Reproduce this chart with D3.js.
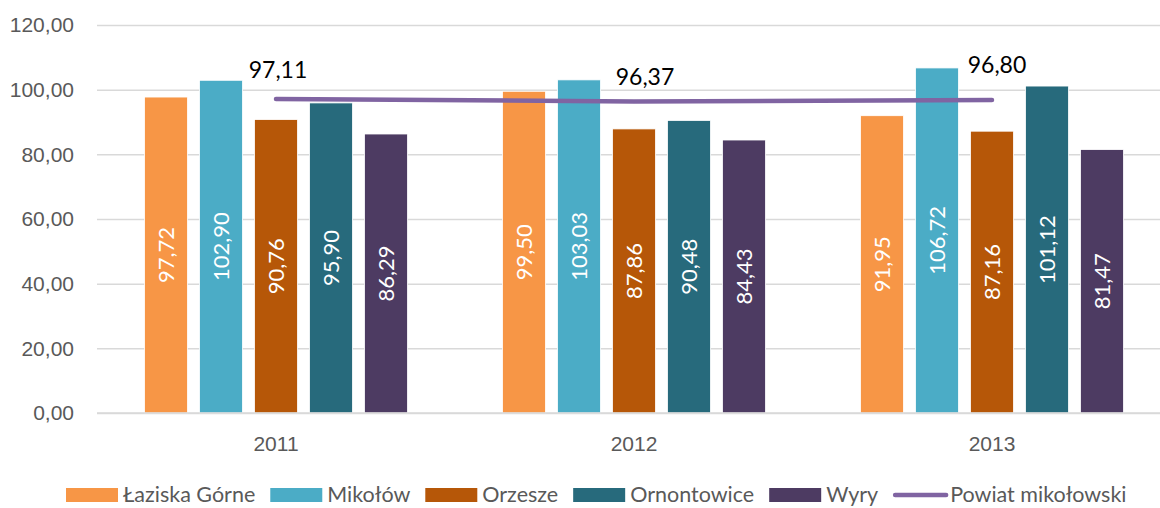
<!DOCTYPE html>
<html lang="pl">
<head>
    <meta charset="UTF-8">
    <title>Powiat mikołowski</title>
    <style>
        body {
            margin: 0;
            background: #ffffff;
            font-family: Lato, "Open Sans", sans-serif;
        }
        .tick text {
            fill: #595959;
        }
    </style>
</head>
<body>
    <div id="chart"></div>

    <script src="https://d3js.org/d3.v7.min.js"></script>
    <script>
        // data
        var years = ["2011", "2012", "2013"];
        var gminy = ["Łaziska Górne", "Mikołów", "Orzesze", "Ornontowice", "Wyry"];
        var lazGorne = [97.72, 99.50, 91.95];
        var mikolow = [102.90, 103.03, 106.72];
        var orzesze = [90.76, 87.86, 87.16];
        var ornontowice = [95.90, 90.48, 101.12];
        var wyry = [86.29, 84.43, 81.47];
        var powiat = [97.11, 96.37, 96.80];
        var lineName = "Powiat mikołowski";
        var yTicks = [0, 20, 40, 60, 80, 100, 120];

        var barColors = ["#f79646", "#4bacc6", "#b65708", "#276a7c", "#4d3b62"];
        var lineColor = "#8064a2";
        // small hand tweaks of the line labels, like in the original
        var labelDx = [2, 11, 5];
        var labelDy = [-21, -16, -27];

        var series = [lazGorne, mikolow, orzesze, ornontowice, wyry];
        var fmt = function(v) { return v.toFixed(2).replace(".", ","); };

        var width = 1160, height = 508;
        var margin = { top: 25, right: -11, bottom: 95, left: 97 };
        var groupWidth = 263; // 5 bars of 43px, 12px apart

        var svg = d3.select("#chart")
                    .append("svg")
                    .attr("width", width)
                    .attr("height", height);

        var x = d3.scaleBand()
                  .domain(years)
                  .range([margin.left, width - margin.right]);

        var xInner = d3.scaleBand()
                       .domain(d3.range(gminy.length))
                       .range([(x.bandwidth() - groupWidth) / 2, (x.bandwidth() + groupWidth) / 2])
                       .paddingInner(12 / 55);

        var y = d3.scaleLinear()
                  .domain([0, 120])
                  .range([height - margin.bottom, margin.top]);

        // gridlines + y labels
        var yAxis = d3.axisLeft(y)
                      .tickValues(yTicks)
                      .tickSize(-(width - margin.left))
                      .tickPadding(23)
                      .tickFormat(fmt);

        svg.append("g")
           .attr("transform", "translate(" + margin.left + ",0)")
           .call(yAxis)
           .call(function(g) {
               g.select(".domain").remove();
               g.selectAll(".tick line").attr("stroke", "#d9d9d9").attr("stroke-width", 1.5);
               g.selectAll(".tick text").attr("font-size", "21px");
           });

        // x axis labels
        var xAxis = d3.axisBottom(x).tickSize(0).tickPadding(23);
        svg.append("g")
           .attr("transform", "translate(0," + y(0) + ")")
           .call(xAxis)
           .call(function(g) {
               g.select(".domain").remove();
               g.selectAll(".tick text").attr("font-size", "21px");
           });

        // bars
        var groups = svg.selectAll(".year")
                        .data(years)
                        .enter()
                        .append("g")
                        .attr("class", "year")
                        .attr("transform", function(d) { return "translate(" + x(d) + ",0)"; });

        groups.selectAll("rect")
              .data(function(d, yi) { return series.map(function(s, si) { return { si: si, v: s[yi] }; }); })
              .enter()
              .append("rect")
              .attr("x", function(d) { return xInner(d.si); })
              .attr("y", function(d) { return y(d.v); })
              .attr("width", xInner.bandwidth())
              .attr("height", function(d) { return y(0) - y(d.v); })
              .attr("fill", function(d) { return barColors[d.si]; })
              .attr("stroke", "#ffffff")
              .attr("stroke-width", 0.8);

        // rotated value labels in the bars
        groups.selectAll(".bar-label")
              .data(function(d, yi) { return series.map(function(s, si) { return { si: si, v: s[yi] }; }); })
              .enter()
              .append("text")
              .attr("class", "bar-label")
              .attr("transform", function(d) {
                  var cx = xInner(d.si) + xInner.bandwidth() / 2;
                  var cy = (y(d.v) + y(0)) / 2;
                  return "translate(" + cx + "," + cy + ") rotate(-90)";
              })
              .attr("text-anchor", "middle")
              .attr("dy", "0.36em")
              .attr("fill", "#ffffff")
              .attr("font-size", "22px")
              .text(function(d) { return fmt(d.v); });

        // x axis line
        svg.append("line")
           .attr("x1", margin.left)
           .attr("x2", width)
           .attr("y1", y(0))
           .attr("y2", y(0))
           .attr("stroke", "#d9d9d9")
           .attr("stroke-width", 1.5);

        // powiat line
        var line = d3.line()
                     .x(function(d, i) { return x(years[i]) + x.bandwidth() / 2; })
                     .y(function(d) { return y(d); });

        svg.append("path")
           .datum(powiat)
           .attr("d", line)
           .attr("fill", "none")
           .attr("stroke", lineColor)
           .attr("stroke-width", 4.5)
           .attr("stroke-linecap", "round");

        svg.selectAll(".line-label")
           .data(powiat)
           .enter()
           .append("text")
           .attr("class", "line-label")
           .attr("x", function(d, i) { return x(years[i]) + x.bandwidth() / 2 + labelDx[i]; })
           .attr("y", function(d, i) { return y(d) + labelDy[i]; })
           .attr("text-anchor", "middle")
           .attr("fill", "#000000")
           .attr("font-size", "23px")
           .text(fmt);

        // legend
        var legendItems = gminy.map(function(n, i) { return { name: n, color: barColors[i], line: false }; });
        legendItems.push({ name: lineName, color: lineColor, line: true });

        var legend = svg.append("g").attr("transform", "translate(0,495)");
        var lx = 66;
        legendItems.forEach(function(item) {
            var g = legend.append("g").attr("transform", "translate(" + lx + ",0)");
            if (item.line) {
                g.append("line")
                 .attr("x1", 2).attr("x2", 53)
                 .attr("y1", 0).attr("y2", 0)
                 .attr("stroke", item.color)
                 .attr("stroke-width", 4.5)
                 .attr("stroke-linecap", "round");
            } else {
                g.append("rect")
                 .attr("x", 0).attr("y", -7)
                 .attr("width", 52).attr("height", 14)
                 .attr("fill", item.color);
            }
            var t = g.append("text")
                     .attr("x", 57)
                     .attr("dy", "0.34em")
                     .attr("fill", "#595959")
                     .attr("font-size", "21.5px")
                     .text(item.name);
            lx += 57 + t.node().getComputedTextLength() + 15;
        });
    </script>
</body>
</html>
